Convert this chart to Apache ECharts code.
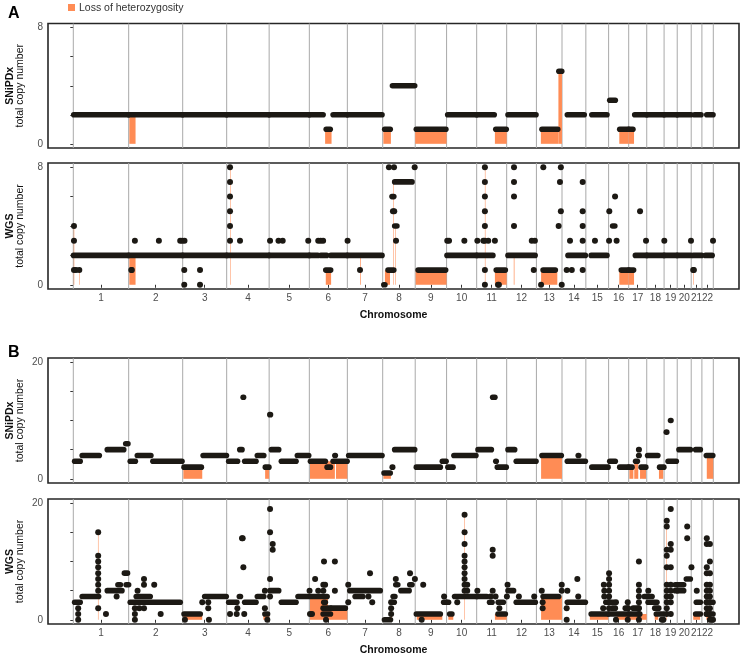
<!DOCTYPE html>
<html><head><meta charset="utf-8">
<script src="https://cdn.jsdelivr.net/npm/echarts@6/dist/echarts.min.js"></script>
<style>html,body{margin:0;padding:0;background:#fff}#c{width:740px;height:657px}</style>
</head><body><div id="c"></div>
<script>
// ---------- genome layout ----------
const chromNames = ['1','2','3','4','5','6','7','8','9','10','11','12','13','14','15','16','17','18','19','20','21','22'];
const chromLengths = [249.25,243.2,198.0,191.15,180.9,171.1,159.1,146.4,141.2,135.5,135.0,133.9,115.2,107.3,102.5,90.4,81.2,78.1,59.1,63.0,48.1,51.3];

// ---------- Panel A (SNiPDx) : [chr, startMb, endMb, copyNumber] ----------
const aSnpSegments = [
 [1,2,248,2],[2,1,242,2],[3,1,197,2],[4,1,190,2],[5,1,180,2],
 [6,1,62,2],[6,76,94,1],[6,107,170,2],[7,1,156,2],
 [8,9,34,1],[8,44,144,4],[9,5,138,1],
 [10,5,135,2],[11,1,79,2],[11,86,133,1],[12,6,132,2],
 [13,25,96,1],[13,101,114,5],[14,24,100,2],[15,27,95,2],
 [16,5,30,3],[16,50,90,1],[17,1,19,1],[17,27,81,2],
 [18,1,77,2],[19,1,58,2],[20,1,62,2],[21,15,44,2],[22,22,50,2]
];
const aSnpLoh = [
 [2,3,31,2],[6,71,100,1],[8,3,37,1],[9,0,141,1],[11,82,135,1],
 [13,20,99,1],[13,99,115,5],[16,48,90,1],[17,0,24,1]
];
// ---------- Panel A (WGS) ----------
const aWgsSegments = [
 [1,1,248,2],[2,1,242,2],[3,1,197,2],[4,1,190,2],[5,1,180,2],
 [6,1,38,2],[6,52,78,2],[6,97,170,2],[6,74,96,1],[7,1,156,2],
 [8,5,10,0],[8,24,50,1],[8,54,64,4],[8,42,50,6],[8,54,132,7],
 [9,13,137,1],[10,2,135,2],[11,1,73,2],[11,88,129,1],
 [12,6,128,2],[13,30,85,1],[14,27,105,2],[15,24,95,2],
 [16,18,28,4],[16,57,90,1],[17,1,22,1],
 [17,30,81,2],[18,1,77,2],[19,1,58,2],[20,1,62,2],[21,10,47,2],[22,16,46,2]
];
const aWgsDots = [
 [1,3,4],[1,3,3],[1,3,1],[1,12,1],[1,27,1],
 [2,12,1],[2,14,1],[2,28,3],[2,136,3],[2,232,3],[2,241,3],
 [3,8,3],[3,7,1],[3,7,0],[3,78,1],[3,78,0],
 [4,60,3],[5,4,3],[5,42,3],[5,61,3],[5,176,3],
 [6,40,3],[6,51,3],[6,62,3],[7,1,3],[7,57,1],
 [8,60,3],[8,46,5],[8,52,5],[8,28,8],[8,51,8],[8,144,8],
 [10,3,3],[10,11,3],[10,80,3],[11,3,3],[11,30,3],[11,52,3],[11,82,3],[11,96,0],[11,100,0],
 [12,113,3],[12,127,3],[12,122,1],
 [13,31,8],[13,21,0],[13,110,8],[13,106,7],[13,110,5],[13,100,4],[13,114,0],
 [14,21,1],[14,44,1],[14,36,3],[15,41,3],
 [16,29,6],[16,3,5],[16,2,3],[16,36,3],[17,51,5],[17,78,3],
 [19,1,3],[20,62,3],[21,9,1],[21,12,1],[22,50,3]
];
const aWgsColumns = [ // [chr, posMb, [copy numbers]]
 [4,15,[8,7,6,5,4,3]],[11,37,[8,7,6,5,4,3,1,0]],[12,33,[8,7,6,4]],[14,93,[7,5,4,3,1]]
];
const aWgsLoh = [
 [1,2,3,4],[1,26,27,1],[2,3,31,2],[4,15,16,8],[6,74,98,1],[7,57,60,2],
 [8,10,33,1],[8,47,49,7],[8,57,59,4],[9,2,141,1],[11,37,38,8],[11,82,135,1],
 [12,32,35,2],[13,21,94,1],[16,48,90,1],[17,0,24,1],[21,9,11,1]
];

// ---------- Panel B (SNiPDx) ----------
const bSnpSegments = [
 [1,6,31,3],[1,40,117,4],[1,153,227,5],[1,236,246,6],
 [2,7,30,3],[2,39,100,4],[2,109,240,3],
 [3,6,84,2],[3,92,197,4],
 [4,9,49,3],[4,59,69,5],[4,74,76,14],[4,81,132,3],[4,138,167,4],[4,174,190,2],
 [5,3,6,11],[5,10,43,5],[5,55,121,3],[5,127,178,4],
 [6,5,72,3],[6,80,95,2],[6,115,117,4],[6,107,170,3],
 [7,6,156,4],
 [8,6,34,1],[8,43,45,2],[8,54,144,5],
 [9,5,113,2],[9,122,139,3],
 [10,6,29,2],[10,33,132,4],
 [11,6,66,5],[11,72,82,14],[11,86,88,3],[11,93,133,2],
 [12,6,36,5],[12,43,132,3],
 [13,25,112,4],[14,24,105,3],[14,73,75,4],[15,27,100,2],
 [16,5,30,3],[16,50,90,2],[17,1,15,2],
 [17,31,39,3],[17,45,47,5],[17,45,47,4],[17,56,77,2],
 [18,4,50,4],[18,58,77,2],
 [19,10,12,8],[19,29,31,10],[19,18,55,3],
 [20,8,59,5],[21,20,41,5],[22,20,49,4]
];
const bSnpLoh = [
 [3,3,88,2],[4,173,191,2],[6,3,115,3],[6,120,171,3],[8,3,37,1],[13,21,115,4],
 [17,3,21,2],[17,25,43,3],[17,51,78,2],[18,55,74,2],[22,22,51,4]
];
// ---------- Panel B (WGS) ----------
const bWgsSegments = [
 [1,6,31,3],[1,40,114,4],[1,153,219,5],[1,201,212,6],[1,230,244,8],[1,238,249,6],
 [2,7,232,3],[2,34,97,4],
 [3,6,79,1],[3,99,196,4],
 [4,9,46,3],[4,57,62,4],[4,81,132,3],[4,138,167,4],[4,172,184,1],
 [5,4,43,5],[5,55,121,3],[5,130,178,4],
 [6,9,80,4],[6,62,95,2],[6,62,95,1],[6,65,72,3],[6,99,162,2],
 [7,11,148,5],[7,35,70,4],
 [8,8,35,0],[8,45,52,3],[8,47,55,4],[8,59,68,6],[8,82,119,5],[8,122,132,6],
 [9,5,113,1],[9,128,141,3],
 [10,1,9,3],[10,14,24,1],[10,36,135,4],
 [11,1,46,4],[11,58,69,3],[11,97,120,3],[11,96,129,1],
 [12,6,31,5],[12,43,129,3],
 [13,30,100,4],[14,24,105,3],[15,24,100,1],[15,90,102,3],
 [16,1,23,3],[16,1,90,1],[16,17,30,2],[16,75,88,2],[17,1,50,1],[17,20,45,2],
 [17,70,81,4],[18,1,24,4],[18,6,46,3],[18,36,54,2],[18,43,76,1],
 [19,50,59,6],[20,1,29,6],[19,50,59,5],[20,1,29,5],[20,41,59,7],
 [21,20,41,1],[21,23,41,3],
 [22,20,50,3],[22,20,50,1]
];
const bWgsDots = [
 [1,147,1],[1,195,4],
 [2,40,5],[2,48,2],[2,115,6],[2,144,1],
 [3,10,0],[3,88,3],[3,115,2],[3,115,3],[3,118,0],
 [4,15,1],[4,45,1],[4,48,2],[4,69,14],[4,72,14],[4,75,9],[4,79,1],[4,183,0],
 [6,3,1],[6,12,1],[6,1,5],[6,26,7],[6,40,5],[6,63,5],[6,63,6],[6,71,6],[6,75,0],[6,66,10],[6,115,10],[6,115,5],
 [7,4,3],[7,4,6],[7,95,4],[7,102,8],[7,112,3],
 [8,145,7],[8,123,8],[8,59,7],
 [9,29,0],[9,36,6],[9,130,4],
 [10,48,3],
 [11,3,5],[11,63,4],[11,85,4],[11,102,2],
 [12,4,6],[12,1,4],[12,55,4],[12,124,4],
 [13,24,5],[14,24,5],[14,73,4],[14,69,7],
 [15,81,6],[15,78,2],
 [16,86,2],[16,86,3],[16,86,0],
 [18,7,5],[18,68,0],[18,75,0],
 [20,45,16],[20,45,14],[20,64,9],[21,25,5],
 [22,44,0],[22,50,0]
];
const bWgsColumns = [
 [1,22,[2,1,0]],[1,112,[15,11,10,9,8,7,6,5,2]],
 [2,28,[2,1,0]],[2,69,[7,6,2]],
 [4,172,[5,2]],[5,4,[19,15,7,4]],[5,16,[13,12]],
 [8,38,[1,2,3]],
 [10,81,[18,15,13,11,10,9,8,7,6,5]],[10,93,[6,5]],
 [11,72,[12,11,5]],[13,28,[3,2]],[13,114,[6,5]],[14,21,[2,0]],
 [15,83,[5,4]],[16,2,[8,7,6,5,4,3,2]],[16,33,[3,0]],
 [17,46,[10,6,5,4,3,2,1,0]],
 [19,12,[17,16,12,11,9,6,5,4,3,2,1]],[19,30,[19,13,12,9,6,5,4,3,1]],
 [22,22,[14,13,9,8,6,5,4,3,2,1]],[22,36,[13,10,8,6,5,4,3,2,1,0]]
];
const bWgsLoh = [
 [1,111,112,15],[3,3,88,1],[4,165,191,1],[6,3,84,4],[6,84,171,2],[8,37,42,1],[9,7,122,1],
 [10,8,30,1],[10,80,81,18],[11,82,135,1],[13,21,115,4],[15,18,101,1],
 [16,36,90,1],[17,0,81,1],[18,36,52,1],[19,10,11,17],[21,9,40,1],[22,20,40,1]
];

// ---------- helpers ----------
const offsets = [];
chromLengths.reduce((acc, l, i) => { offsets[i] = acc; return acc + l; }, 0);
const genomeLen = offsets[21] + chromLengths[21];
const boundaries = offsets.concat([genomeLen]);
const centers = chromLengths.map((l, i) => offsets[i] + l / 2);
const g = (chr, mb) => offsets[chr - 1] + mb;
const toRange = arr => arr.map(d => [g(d[0], d[1]), g(d[0], d[2]), d[3]]);
const toDots = (dots, cols) => {
  const out = dots.map(d => [g(d[0], d[1]), d[2]]);
  (cols || []).forEach(c => c[2].forEach(cn => out.push([g(c[0], c[1]), cn])));
  return out;
};

const LOH_COLOR = '#FF8C55';
const DOT_COLOR = '#1c1914';
const SEG_W = 5.6;
const DOT_SIZE = 6;
const FONT = 'Liberation Sans, Arial, Helvetica, sans-serif';
const X_MIN = -113.9, X_MAX = 2996.6;

const panels = [
  {seg: aSnpSegments, loh: aSnpLoh, dots: [], cols: [], ymax: 8, ticks:[0,2,4,6,8], top: 23.5, h: 124.5, name: 'SNiPDx', bottom: false},
  {seg: aWgsSegments, loh: aWgsLoh, dots: aWgsDots, cols: aWgsColumns, ymax: 8, ticks:[0,2,4,6,8], top: 163, h: 126, name: 'WGS', bottom: true},
  {seg: bSnpSegments, loh: bSnpLoh, dots: [], cols: [], ymax: 20, ticks:[0,5,10,15,20], top: 358, h: 125, name: 'SNiPDx', bottom: false},
  {seg: bWgsSegments, loh: bWgsLoh, dots: bWgsDots, cols: bWgsColumns, ymax: 20, ticks:[0,5,10,15,20], top: 499, h: 125, name: 'WGS', bottom: true}
];

function renderBoundary(params, api) {
  const x = api.coord([api.value(0), 0])[0];
  const cs = params.coordSys;
  return {type: 'line', shape: {x1: x, y1: cs.y, x2: x, y2: cs.y + cs.height},
          style: {stroke: '#a9a9a9', lineWidth: 1}};
}
function renderLoh(params, api) {
  const p1 = api.coord([api.value(0), api.value(2)]);
  const p2 = api.coord([api.value(1), 0]);
  return {type: 'rect', shape: {x: p1[0], y: p1[1], width: Math.max(p2[0] - p1[0], 0.5), height: p2[1] - p1[1]},
          style: {fill: LOH_COLOR}};
}
function renderSeg(params, api) {
  const p1 = api.coord([api.value(0), api.value(2)]);
  const p2 = api.coord([api.value(1), api.value(2)]);
  return {type: 'line', shape: {x1: p1[0], y1: p1[1], x2: p2[0], y2: p2[1]},
          style: {stroke: DOT_COLOR, lineWidth: SEG_W, lineCap: 'round'}};
}
function chromLabel(v) {
  let best = 0;
  centers.forEach((c, i) => { if (Math.abs(c - v) < Math.abs(centers[best] - v)) best = i; });
  return chromNames[best];
}

const grid = [], xAxis = [], yAxis = [], series = [];
panels.forEach((p, i) => {
  grid.push({left: 48, right: 1, top: p.top, height: p.h, show: true, outerBoundsMode: 'none', containLabel: false,
             borderColor: '#262626', borderWidth: 1.6, backgroundColor: 'transparent'});
  const pad = p.ymax * 0.036;
  xAxis.push({
    gridIndex: i, type: 'value', min: X_MIN, max: X_MAX,
    axisLine: {show: false}, splitLine: {show: false},
    axisTick: {show: p.bottom, customValues: centers, length: 3, lineStyle: {color: '#333'}},
    axisLabel: {show: p.bottom, customValues: centers, formatter: chromLabel, hideOverlap: false, color: '#4d4d4d', fontSize: 10, margin: 4, fontFamily: FONT},
    name: p.bottom ? 'Chromosome' : '', nameLocation: 'middle', nameGap: 21, nameMoveOverlap: false,
    nameTextStyle: {fontWeight: 'bold', fontSize: 10.5, color: '#111', fontFamily: FONT}
  });
  yAxis.push({
    gridIndex: i, type: 'value', min: -pad, max: p.ymax + pad,
    axisLine: {show: false}, splitLine: {show: false},
    axisTick: {show: true, customValues: p.ticks, length: 3, lineStyle: {color: '#333'}},
    axisLabel: {customValues: [0, p.ymax], formatter: v => String(v), color: '#4d4d4d', fontSize: 10, margin: 5, fontFamily: FONT},
    name: '{b|' + p.name + '}\n{n|total copy number}', nameLocation: 'middle', nameRotate: 90, nameGap: 22.5, nameMoveOverlap: false,
    nameTextStyle: {fontFamily: FONT, rich: {
      b: {fontWeight: 'bold', fontSize: 10.5, color: '#111', lineHeight: 10.5, fontFamily: FONT},
      n: {fontSize: 10.5, color: '#111', lineHeight: 10.5, fontFamily: FONT}}}
  });
  series.push({type: 'custom', xAxisIndex: i, yAxisIndex: i, silent: true, z: 1,
    renderItem: renderBoundary, encode: {x: 0, y: 1}, data: boundaries.map(b => [b, 0])});
  series.push({type: 'custom', name: 'Loss of heterozygosity', xAxisIndex: i, yAxisIndex: i, silent: true, z: 2,
    renderItem: renderLoh, encode: {x: [0, 1], y: 2}, data: toRange(p.loh)});
  series.push({type: 'custom', xAxisIndex: i, yAxisIndex: i, silent: true, z: 3,
    renderItem: renderSeg, encode: {x: [0, 1], y: 2}, data: toRange(p.seg)});
  const d = toDots(p.dots, p.cols);
  if (d.length) series.push({type: 'scatter', xAxisIndex: i, yAxisIndex: i, silent: true, z: 4,
    symbol: 'circle', symbolSize: DOT_SIZE, itemStyle: {color: DOT_COLOR, opacity: 1}, data: d});
});

const chart = echarts.init(document.getElementById('c'), null, {renderer: 'canvas'});
chart.setOption({
  animation: false,
  textStyle: {fontFamily: FONT},
  grid, xAxis, yAxis, series,
  graphic: [
    {type: 'text', left: 8, top: 6, style: {text: 'A', font: 'bold 16px ' + FONT, fill: '#000'}},
    {type: 'text', left: 8, top: 345, style: {text: 'B', font: 'bold 16px ' + FONT, fill: '#000'}},
    {type: 'rect', left: 68, top: 4, shape: {width: 7, height: 7}, style: {fill: LOH_COLOR}},
    {type: 'text', left: 79, top: 3, style: {text: 'Loss of heterozygosity', font: '10.5px ' + FONT, fill: '#333'}}
  ]
});
</script></body></html>
